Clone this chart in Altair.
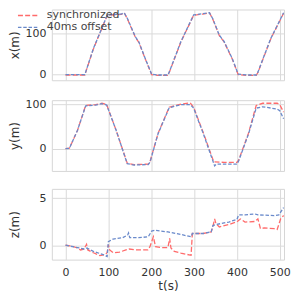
import altair as alt
import pandas as pd

SERIES = ["synchronized", "40ms offset"]
COLORS = ["#ff6b6b", "#6a8acb"]

# Panel x(m)
x_sync_t = [0, 45, 65, 97, 110, 130, 137, 145, 163, 171, 186, 201, 215, 239, 242, 269, 299, 320, 336, 344, 359, 370, 389, 403, 425, 445, 449, 479, 509]
x_sync_v = [-1, -1, 62, 142, 144, 145, 149, 133, 90, 78, 38, 0, -2, -2, 5, 78, 143, 146, 149, 133, 94, 79, 38, 0, -2, -2, 5, 86, 148]
x_off_t = [0, 45, 65, 97, 110, 130, 137, 145, 163, 171, 186, 201, 215, 239, 242, 269, 299, 320, 336, 344, 359, 370, 389, 403, 425, 445, 449, 479, 509]
x_off_v = [0, 0, 63, 143, 145, 146, 149, 134, 91, 79, 39, 1, -1, -1, 6, 79, 144, 147, 149, 134, 95, 80, 39, 1, -1, -1, 6, 87, 149]

# Panel y(m)
y_sync_t = [0, 9, 28, 47, 70, 85, 96, 118, 144, 160, 193, 197, 216, 242, 270, 291, 299, 322, 346, 370, 400, 404, 427, 445, 460, 494, 500, 509]
y_sync_v = [0, 1, 42, 98, 100, 103, 100, 42, -33, -36, -35, -30, 35, 94, 101, 104, 94, 35, -30, -31, -31, -26, 35, 98, 103, 103, 100, 83]
y_off_t = [0, 9, 28, 47, 70, 85, 96, 118, 144, 160, 193, 197, 216, 242, 270, 291, 299, 322, 348, 352, 400, 404, 427, 445, 460, 494, 500, 509]
y_off_v = [0, 1, 42, 97, 99, 102, 99, 42, -34, -37, -36, -31, 34, 93, 100, 100, 92, 33, -39, -35, -35, -28, 33, 92, 95, 90, 86, 68]

# Panel z(m)
z_sync_t = [0, 15, 28, 35, 43, 49, 52, 65, 80, 92, 97, 100, 103, 111, 126, 141, 148, 163, 192, 197, 205, 210, 223, 239, 243, 246, 254, 269, 293, 296, 306, 321, 340, 344, 348, 351, 359, 381, 400, 408, 419, 442, 449, 455, 464, 487, 494, 502, 509]
z_sync_v = [0, -0.1, -0.3, -0.5, -0.4, 0.1, -0.5, -0.8, -1.1, -1.0, -0.8, 0.05, -0.5, -0.8, -0.73, -0.5, -0.4, -0.5, -0.5, -0.15, 0.9, -0.15, -0.25, -0.25, 0.73, -0.3, -0.65, -0.83, -1.07, 1.25, 1.25, 1.25, 1.42, 2.0, 2.8, 2.3, 1.95, 2.2, 2.5, 2.8, 2.47, 2.53, 2.8, 1.77, 1.84, 1.77, 1.67, 2.8, 3.16]
z_off_t = [0, 28, 43, 50, 65, 88, 97, 100, 111, 133, 145, 147, 150, 171, 193, 201, 208, 223, 239, 269, 293, 296, 321, 340, 344, 351, 381, 400, 404, 419, 442, 449, 487, 498, 509]
z_off_v = [0, -0.25, -0.4, -0.3, -0.65, -1.0, -1.2, 0.38, 0.66, 0.8, 1.08, 1.3, 0.8, 0.8, 0.9, 1.5, 1.6, 1.5, 1.42, 1.15, 0.9, 1.25, 1.25, 1.42, 2.1, 2.2, 2.47, 2.74, 3.23, 3.23, 3.33, 3.23, 3.16, 3.23, 4.0]

X_TICKS = [0, 100, 200, 300, 400, 500]
DASHES = [[5, 2.2], [3.5, 1.8]]


def frame(ts, vs, ts2, vs2):
    a = pd.DataFrame({"t": ts, "v": vs, "s": SERIES[0], "o": 1})
    b = pd.DataFrame({"t": ts2, "v": vs2, "s": SERIES[1], "o": 0})
    return pd.concat([a, b], ignore_index=True)


def panel(df, title, ydom, yticks, show_x, legend):
    xaxis = alt.Axis(values=X_TICKS, labels=show_x, title="t(s)" if show_x else None,
                     tickSize=0, labelPadding=7, titlePadding=3, domain=False)
    if legend:
        leg = alt.Legend(orient="none", legendX=-30, legendY=0, title=None,
                         symbolType="M-2,0L2,0", symbolSize=100, symbolStrokeWidth=1.5,
                         labelFontSize=11, labelColor="#444444", rowPadding=1,
                         labelOffset=13)
    else:
        leg = None
    return alt.Chart(df).mark_line(strokeWidth=1.3).encode(
        x=alt.X("t:Q", scale=alt.Scale(domain=[-32, 510], nice=False, zero=False), axis=xaxis),
        y=alt.Y("v:Q", scale=alt.Scale(domain=ydom, nice=False, zero=False),
                axis=alt.Axis(values=yticks, title=title, tickSize=0, labelPadding=6,
                              minExtent=27, maxExtent=27, titlePadding=3, domain=False)),
        color=alt.Color("s:N", scale=alt.Scale(domain=SERIES, range=COLORS), legend=leg),
        strokeDash=alt.StrokeDash("s:N", scale=alt.Scale(domain=SERIES, range=DASHES), legend=leg),
        strokeWidth=alt.StrokeWidth("s:N", scale=alt.Scale(domain=SERIES, range=[1.7, 1.15]), legend=None),
        order=alt.Order("o:Q"),
    ).properties(width=233, height=71)


p1 = panel(frame(x_sync_t, x_sync_v, x_off_t, x_off_v), "x(m)", [-13.6, 157], [0, 100], False, True)
p2 = panel(frame(y_sync_t, y_sync_v, y_off_t, y_off_v), "y(m)", [-50.4, 110], [0, 100], False, False)
p3 = panel(frame(z_sync_t, z_sync_v, z_off_t, z_off_v), "z(m)", [-1.53, 6.0], [0, 5], True, False)

chart = alt.vconcat(p1, p2, p3, spacing=16).properties(
    padding={"left": 0, "top": 0, "right": 0, "bottom": 0}
).configure_view(stroke="#d6d6d6", strokeWidth=1).configure_axis(
    gridColor="#dadada", gridWidth=1, labelFont="DejaVu Sans", titleFont="DejaVu Sans",
    labelFontSize=11, titleFontSize=12, labelColor="#333333", titleColor="#333333",
    titleFontWeight="normal"
).configure_legend(labelFont="DejaVu Sans").configure_line(strokeCap="butt")

chart.save("out.html", embed_options={"renderer": "svg", "actions": False})
